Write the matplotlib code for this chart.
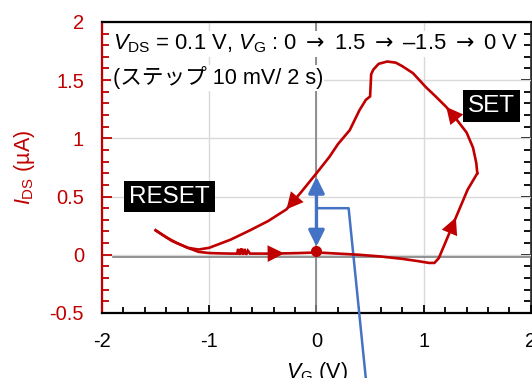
import matplotlib
matplotlib.use('Agg')
import matplotlib.pyplot as plt
from matplotlib.ticker import MultipleLocator, FuncFormatter, NullFormatter

plt.rcParams['font.family'] = ['Liberation Sans', 'Noto Sans CJK JP', 'DejaVu Sans']
plt.rcParams['mathtext.fontset'] = 'custom'
plt.rcParams['mathtext.rm'] = 'Liberation Sans'
plt.rcParams['mathtext.it'] = 'Liberation Sans:italic'
plt.rcParams['mathtext.sf'] = 'DejaVu Sans'
plt.rcParams['axes.unicode_minus'] = False

RED = '#C00000'
BLUE = '#4472C4'

# ---- data: sweep 0 -> 1.5 V
vg_up = [0.0, 0.2, 0.4, 0.6, 0.8, 0.95, 1.05, 1.1, 1.14, 1.2, 1.3, 1.41, 1.5]
ids_up = [0.02, 0.01, 0.0, -0.015, -0.035, -0.055, -0.07, -0.07, -0.03, 0.10, 0.32, 0.56, 0.70]

# ---- sweep 1.5 -> -1.5 V
vg_down = [1.5, 1.49, 1.46, 1.40, 1.30, 1.21, 1.10, 1.02, 0.90, 0.80, 0.74, 0.66, 0.58,
           0.53, 0.51, 0.505, 0.50, 0.46, 0.40, 0.31, 0.20, 0.12, 0.0, -0.15, -0.28,
           -0.45, -0.62, -0.8, -1.0, -1.1, -1.2, -1.35, -1.5]
ids_down = [0.70, 0.79, 0.92, 1.05, 1.17, 1.27, 1.37, 1.44, 1.56, 1.62, 1.65, 1.66, 1.64,
            1.59, 1.55, 1.45, 1.36, 1.33, 1.24, 1.07, 0.95, 0.84, 0.70, 0.53, 0.39,
            0.29, 0.21, 0.13, 0.06, 0.045, 0.06, 0.12, 0.21]

# ---- sweep -1.5 -> 0 V
vg_back = [-1.5, -1.4, -1.3, -1.2, -1.1, -1.0, -0.9, -0.8, -0.74, -0.73, -0.715, -0.70,
           -0.685, -0.67, -0.655, -0.64, -0.62, -0.6, -0.45, -0.3, -0.15, 0.0]
ids_back = [0.21, 0.15, 0.10, 0.06, 0.025, 0.015, 0.012, 0.01, 0.01, 0.05, 0.0, 0.055,
            0.0, 0.05, 0.0, 0.035, 0.01, 0.01, 0.01, 0.012, 0.015, 0.02]

start_v = [0.0]
start_i = [0.03]

# blue guide
step_v = [0.0, 0.30, 0.46]
step_i = [0.40, 0.40, -1.06]
dbl_v = [0.0, 0.0]
dbl_i = [0.07, 0.67]

xticks = [-2, -1, 0, 1, 2]
yticks = [-0.5, 0, 0.5, 1, 1.5, 2]

fig = plt.figure(figsize=(5.32, 3.78), dpi=100)
ax = fig.add_axes([0.1917, 0.172, 0.8063, 0.770])
ax.set_xlim(-2, 2)
ax.set_ylim(-0.5, 2)

ax.set_xticks(xticks)
ax.set_yticks(yticks)
ax.xaxis.set_minor_locator(MultipleLocator(0.2))
ax.yaxis.set_minor_locator(MultipleLocator(0.1))
fmt = FuncFormatter(lambda v, p: '%g' % v)
ax.xaxis.set_major_formatter(fmt)
ax.yaxis.set_major_formatter(fmt)
ax.grid(True, which='major', color='#d9d9d9', lw=1.0, zorder=0)
ax.set_axisbelow(True)

ax.tick_params(axis='x', which='both', direction='in', colors='black', labelsize=14.5,
               pad=14, top=False)
ax.tick_params(axis='x', which='major', length=6, width=1.3)
ax.tick_params(axis='x', which='minor', length=4, width=1.3)
ax.tick_params(axis='y', which='both', direction='in', colors=RED, labelsize=14.5,
               pad=13, right=False)
ax.tick_params(axis='y', which='major', length=7, width=1.3)
ax.tick_params(axis='y', which='minor', length=5, width=1.3)

for s in ['top', 'bottom']:
    ax.spines[s].set_color('black')
    ax.spines[s].set_linewidth(1.6)
ax.spines['left'].set_color(RED)
ax.spines['left'].set_linewidth(1.6)
ax.spines['right'].set_visible(False)

sec = ax.secondary_yaxis('right')
sec.set_yticks(yticks)
sec.yaxis.set_minor_locator(MultipleLocator(0.1))
sec.yaxis.set_major_formatter(NullFormatter())
sec.tick_params(axis='y', which='both', direction='in', colors='black')
sec.tick_params(axis='y', which='major', length=7, width=1.3)
sec.tick_params(axis='y', which='minor', length=5, width=1.3)
sec.spines['right'].set_color('black')
sec.spines['right'].set_linewidth(1.2)

ax.axvline(0, color='#808080', lw=1.2, zorder=1)
ax.plot([-1.9, 2], [-0.015, -0.015], color='#808080', lw=1.2, zorder=1)

ax.set_xlabel('$V_{\\rm G}$ (V)', fontsize=15.5, labelpad=6)
ax.set_ylabel('$I_{\\rm DS}$ (µA)', fontsize=15.5, color=RED, labelpad=9)

# curves
for xs, ys in [(vg_up, ids_up), (vg_down, ids_down), (vg_back, ids_back)]:
    ax.plot(xs, ys, color=RED, lw=1.9, solid_joinstyle='miter', zorder=4)

def arrow_on(xs, ys, i):
    ax.annotate('', xy=(xs[i + 1], ys[i + 1]), xytext=(xs[i], ys[i]),
                arrowprops=dict(arrowstyle='-|>,head_length=0.6,head_width=0.3',
                                color=RED, lw=0, shrinkA=0, shrinkB=0,
                                mutation_scale=20), zorder=5)

arrow_on(vg_up, ids_up, 9)
arrow_on(vg_down, ids_down, 4)
arrow_on(vg_down, ids_down, 23)
arrow_on(vg_back, ids_back, 18)

ax.plot(start_v, start_i, 'o', color=RED, ms=7, zorder=6)

# blue
ax.plot(step_v, step_i, color=BLUE, lw=1.8, clip_on=False, zorder=3)
ax.annotate('', xy=(dbl_v[1], dbl_i[1]), xytext=(dbl_v[0], dbl_i[0]),
            arrowprops=dict(arrowstyle='<|-|>,head_length=0.65,head_width=0.32',
                            color=BLUE, lw=2.4, shrinkA=0, shrinkB=0,
                            mutation_scale=15), zorder=5)

# texts
ARR = '$\\mathsf{\\rightarrow}$'
ax.text(-1.90, 1.81,
        '$V_{\\rm DS}$ = 0.1 V, $V_{\\rm G}$ : 0 ' + ARR + ' 1.5 ' + ARR + ' –1.5 ' + ARR + ' 0 V',
        fontsize=15.8, va='center', ha='left', zorder=3,
        bbox=dict(facecolor='white', edgecolor='none', pad=1))
ax.text(-1.90, 1.52, '(ステップ 10 mV/ 2 s)',
        fontsize=15.6, va='center', ha='left', zorder=3,
        bbox=dict(facecolor='white', edgecolor='none', pad=1))

ax.text(1.63, 1.28, 'SET', color='white', fontsize=17.5, ha='center', va='center',
        zorder=6, bbox=dict(facecolor='black', edgecolor='none', pad=3.5))
ax.text(-1.37, 0.50, 'RESET', color='white', fontsize=17.5, ha='center', va='center',
        zorder=6, bbox=dict(facecolor='black', edgecolor='none', pad=3.5))

fig.savefig('out.png', dpi=100)
